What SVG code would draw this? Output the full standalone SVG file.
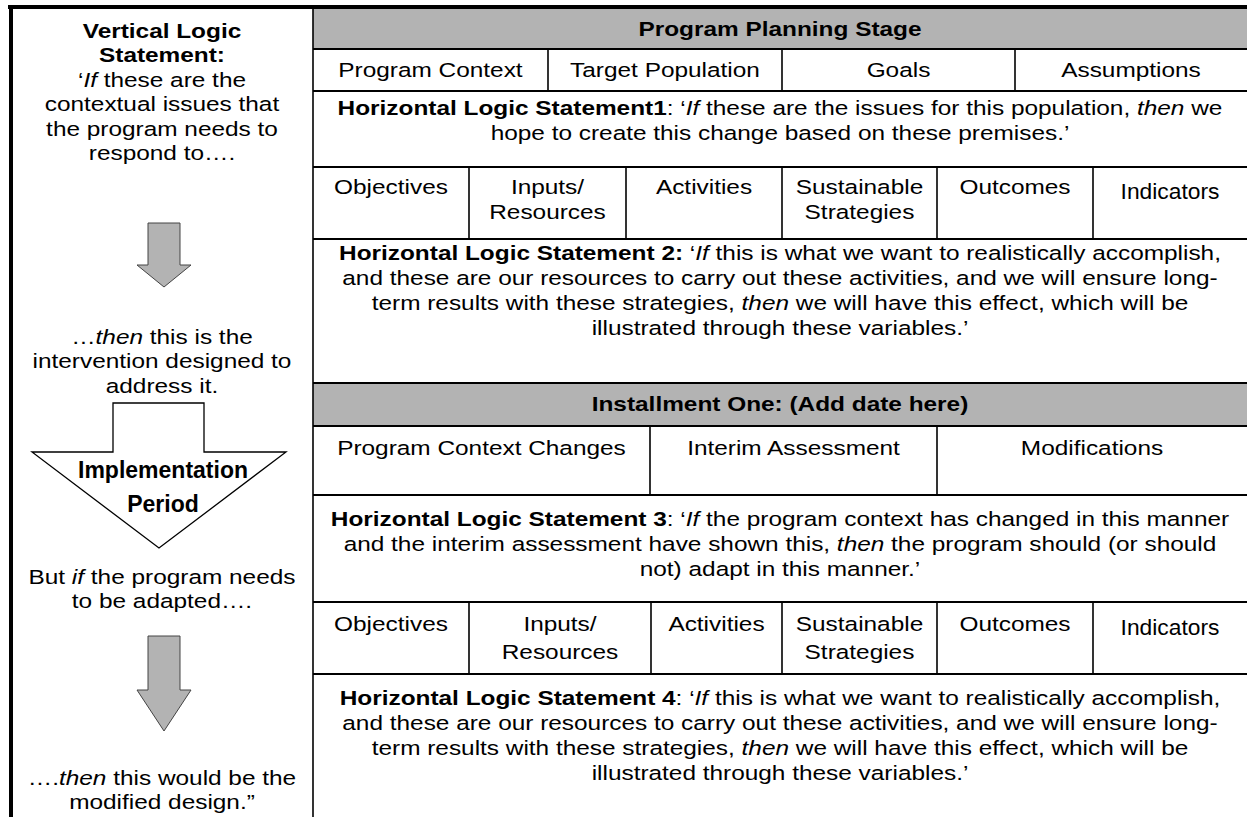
<svg xmlns="http://www.w3.org/2000/svg" width="1247" height="817" viewBox="0 0 1247 817">
<style>
.t{font-family:"Liberation Sans",Arial,sans-serif;font-size:20.5px;fill:#000;text-anchor:middle}
.b{font-weight:bold}
.i{font-style:italic}
.n{font-family:"Liberation Sans",Arial,sans-serif;fill:#000;text-anchor:middle}
.hl{stroke:#000;stroke-width:2;fill:none}
.vl{stroke:#000;stroke-width:1.6;fill:none}
.gray{fill:#b3b3b3}
.arr{fill:#b3b3b3;stroke:#444;stroke-width:1}
</style>
<rect x="0" y="0" width="1247" height="817" fill="#fff"/>

<g id="frame">
  <rect class="gray" x="313" y="9" width="934" height="40"/>
  <rect class="gray" x="313" y="383" width="934" height="43"/>
  <line x1="8" y1="7" x2="1247" y2="7" stroke="#000" stroke-width="4"/>
  <line x1="11" y1="5" x2="11" y2="817" stroke="#000" stroke-width="4"/>
  <line class="vl" x1="313" y1="9" x2="313" y2="817"/>
  <line class="hl" x1="313" y1="49" x2="1247" y2="49"/>
  <line class="hl" x1="313" y1="91" x2="1247" y2="91"/>
  <line class="hl" x1="313" y1="167" x2="1247" y2="167"/>
  <line class="hl" x1="313" y1="239" x2="1247" y2="239"/>
  <line class="hl" x1="313" y1="383" x2="1247" y2="383"/>
  <line class="hl" x1="313" y1="426" x2="1247" y2="426"/>
  <line class="hl" x1="313" y1="495" x2="1247" y2="495"/>
  <line class="hl" x1="313" y1="602" x2="1247" y2="602"/>
  <line class="hl" x1="313" y1="674" x2="1247" y2="674"/>
  <line class="vl" x1="548" y1="49" x2="548" y2="91"/>
  <line class="vl" x1="782" y1="49" x2="782" y2="91"/>
  <line class="vl" x1="1015" y1="49" x2="1015" y2="91"/>
  <line class="vl" x1="469" y1="167" x2="469" y2="239"/>
  <line class="vl" x1="626" y1="167" x2="626" y2="239"/>
  <line class="vl" x1="782" y1="167" x2="782" y2="239"/>
  <line class="vl" x1="937" y1="167" x2="937" y2="239"/>
  <line class="vl" x1="1093" y1="167" x2="1093" y2="239"/>
  <line class="vl" x1="650" y1="426" x2="650" y2="495"/>
  <line class="vl" x1="937" y1="426" x2="937" y2="495"/>
  <line class="vl" x1="469" y1="602" x2="469" y2="674"/>
  <line class="vl" x1="651" y1="602" x2="651" y2="674"/>
  <line class="vl" x1="782" y1="602" x2="782" y2="674"/>
  <line class="vl" x1="937" y1="602" x2="937" y2="674"/>
  <line class="vl" x1="1093" y1="602" x2="1093" y2="674"/>
</g>

<g id="connectors">
  <polygon class="arr" points="148,223 180,223 180,265 191,265 164,287 137,265 148,265"/>
  <polygon class="arr" points="148,636 180,636 180,690 191,690 164,731 137,690 148,690"/>
</g>

<g id="implementation-period">
  <polygon points="113,403 204,403 204,452 286,452 159,548 32,452 113,452" fill="#fff" stroke="#000" stroke-width="1.3"/>
  <text class="n b" x="163" y="478" font-size="23">Implementation</text>
  <text class="n b" x="163" y="512" font-size="23">Period</text>
</g>

<g id="indicators-cells">
  <text class="n" x="1170" y="199" font-size="22.8">Indicators</text>
  <text class="n" x="1170" y="635" font-size="22.8">Indicators</text>
</g>

<g transform="scale(1.19,1)">
  <g id="vertical-logic">
    <text class="t b" x="136.13" y="38">Vertical Logic</text>
    <text class="t b" x="136.13" y="62.5">Statement:</text>
    <text class="t" x="136.13" y="87">‘<tspan class="i">If</tspan> these are the</text>
    <text class="t" x="136.13" y="111.5">contextual issues that</text>
    <text class="t" x="136.13" y="136">the program needs to</text>
    <text class="t" x="136.13" y="160">respond to….</text>
    <text class="t" x="136.13" y="344">…<tspan class="i">then</tspan> this is the</text>
    <text class="t" x="136.13" y="368.5">intervention designed to</text>
    <text class="t" x="136.13" y="393">address it.</text>
    <text class="t" x="136.13" y="584">But <tspan class="i">if</tspan> the program needs</text>
    <text class="t" x="136.13" y="608">to be adapted….</text>
    <text class="t" x="136.13" y="785.5">….<tspan class="i">then</tspan> this would be the</text>
    <text class="t" x="136.13" y="809.5">modified design.”</text>
  </g>

  <g id="planning-stage">
    <text class="t b" x="655.46" y="36.5">Program Planning Stage</text>
    <text class="t" x="361.76" y="77.5">Program Context</text>
    <text class="t" x="558.82" y="77.5">Target Population</text>
    <text class="t" x="755.04" y="77.5">Goals</text>
    <text class="t" x="950.42" y="77.5">Assumptions</text>
  </g>

  <g id="hls1">
    <text class="t" x="655.46" y="115"><tspan class="b">Horizontal Logic Statement1</tspan>: ‘<tspan class="i">If</tspan> these are the issues for this population, <tspan class="i">then</tspan> we</text>
    <text class="t" x="655.46" y="140.5">hope to create this change based on these premises.’</text>
  </g>

  <g id="planning-columns">
    <text class="t" x="328.57" y="194">Objectives</text>
    <text class="t" x="460.08" y="194">Inputs/</text>
    <text class="t" x="460.08" y="219">Resources</text>
    <text class="t" x="591.60" y="194">Activities</text>
    <text class="t" x="722.27" y="194">Sustainable</text>
    <text class="t" x="722.27" y="219">Strategies</text>
    <text class="t" x="852.94" y="194">Outcomes</text>
  </g>

  <g id="hls2">
    <text class="t" x="655.46" y="260"><tspan class="b">Horizontal Logic Statement 2:</tspan> ‘<tspan class="i">If</tspan> this is what we want to realistically accomplish,</text>
    <text class="t" x="655.46" y="285">and these are our resources to carry out these activities, and we will ensure long-</text>
    <text class="t" x="655.46" y="310">term results with these strategies, <tspan class="i">then</tspan> we will have this effect, which will be</text>
    <text class="t" x="655.46" y="335">illustrated through these variables.’</text>
  </g>

  <g id="installment-one">
    <text class="t b" x="655.46" y="411.5">Installment One: (Add date here)</text>
    <text class="t" x="404.62" y="455">Program Context Changes</text>
    <text class="t" x="666.81" y="455">Interim Assessment</text>
    <text class="t" x="917.65" y="455">Modifications</text>
  </g>

  <g id="hls3">
    <text class="t" x="655.46" y="526.5"><tspan class="b">Horizontal Logic Statement 3</tspan>: ‘<tspan class="i">If</tspan> the program context has changed in this manner</text>
    <text class="t" x="655.46" y="551.5">and the interim assessment have shown this, <tspan class="i">then</tspan> the program should (or should</text>
    <text class="t" x="655.46" y="576.5">not) adapt in this manner.’</text>
  </g>

  <g id="installment-columns">
    <text class="t" x="328.57" y="631">Objectives</text>
    <text class="t" x="470.59" y="631">Inputs/</text>
    <text class="t" x="470.59" y="659">Resources</text>
    <text class="t" x="602.10" y="631">Activities</text>
    <text class="t" x="722.27" y="631">Sustainable</text>
    <text class="t" x="722.27" y="659">Strategies</text>
    <text class="t" x="852.94" y="631">Outcomes</text>
  </g>

  <g id="hls4">
    <text class="t" x="655.46" y="705.5"><tspan class="b">Horizontal Logic Statement 4</tspan>: ‘<tspan class="i">If</tspan> this is what we want to realistically accomplish,</text>
    <text class="t" x="655.46" y="730.5">and these are our resources to carry out these activities, and we will ensure long-</text>
    <text class="t" x="655.46" y="755.5">term results with these strategies, <tspan class="i">then</tspan> we will have this effect, which will be</text>
    <text class="t" x="655.46" y="780.5">illustrated through these variables.’</text>
  </g>
</g>
</svg>
